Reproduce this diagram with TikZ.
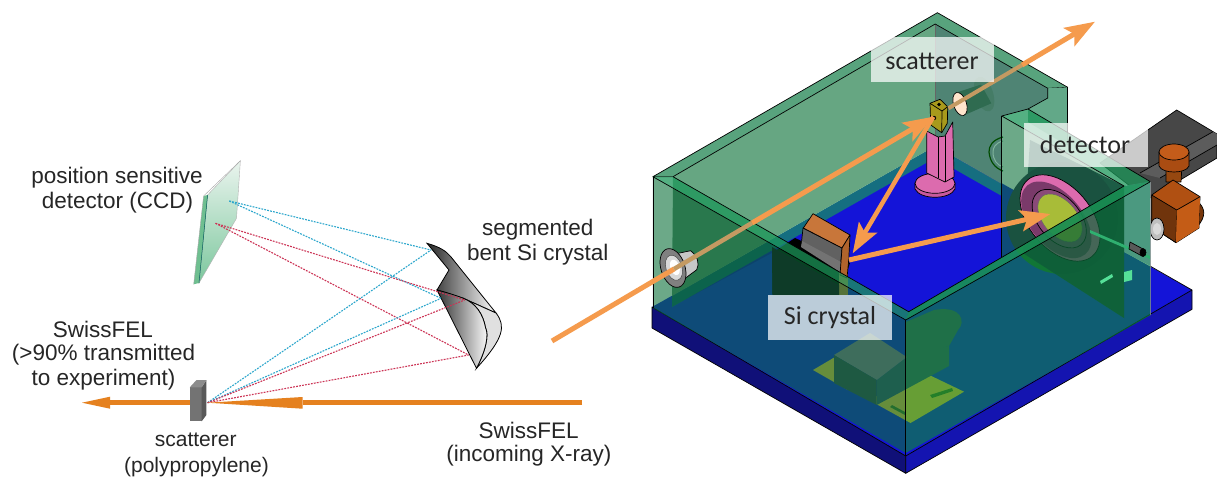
\documentclass[tikz,border=0pt]{standalone}
\usepackage{fontspec}
\setmainfont{Liberation Sans}
\newfontfamily\labelfont{Carlito}
\usetikzlibrary{arrows.meta}
\definecolor{beam}{HTML}{E5811F}
\definecolor{beamB}{HTML}{F59B4D}
\definecolor{beamT}{HTML}{C49A62}
\definecolor{rayblue}{HTML}{2BA6CC}
\definecolor{rayred}{HTML}{CC3355}
\definecolor{wallc}{HTML}{0A7139}
\definecolor{wallr}{HTML}{0C8E2F}
\definecolor{rimc}{HTML}{1C9659}
\definecolor{pinkc}{HTML}{DC6BAE}
\definecolor{pinkd}{HTML}{C85A9C}
\definecolor{c1414D8}{HTML}{1414D8}
\definecolor{plateL}{HTML}{101078}
\definecolor{plateR}{HTML}{1414B0}
\definecolor{c156E80}{HTML}{156E80}
\definecolor{c66A682}{HTML}{66A682}
\definecolor{c54897A}{HTML}{4F8474}
\definecolor{c58A37D}{HTML}{58A37D}
\definecolor{c62A888}{HTML}{62A888}
\definecolor{c7FB49B}{HTML}{7FB49B}
\definecolor{c3E7A5E}{HTML}{2F6B50}
\definecolor{c4D8670}{HTML}{457C66}
\definecolor{cC8763A}{HTML}{C8763A}
\definecolor{cB0642C}{HTML}{B0642C}
\definecolor{cFFD030}{HTML}{F0B840}
\definecolor{c3E6E5F}{HTML}{3C446E}
\definecolor{c3E6E5L}{HTML}{3E6E5F}
\definecolor{c8E6991}{HTML}{8E6991}
\definecolor{c3C3750}{HTML}{3C3750}
\definecolor{c1C5C45}{HTML}{1C5C45}
\definecolor{c1E4E38}{HTML}{1A5240}
\definecolor{c7A3A6A}{HTML}{7A3A6A}
\definecolor{c8A4A78}{HTML}{8A4A78}
\definecolor{cBED23C}{HTML}{A8BC38}
\definecolor{c55E098}{HTML}{55E098}
\definecolor{c66E8A8}{HTML}{2FB070}
\definecolor{knA}{HTML}{964810}
\definecolor{knB}{HTML}{78370C}
\definecolor{knC}{HTML}{B05012}
\definecolor{knD}{HTML}{70340C}
\definecolor{knE}{HTML}{C45C16}
\definecolor{knF}{HTML}{AA4C12}
\definecolor{knG}{HTML}{C45C1A}
\definecolor{cube}{HTML}{A89A1C}
\definecolor{darkh}{HTML}{0E3B28}
\definecolor{strip}{HTML}{AAAAFA}
\definecolor{detT}{HTML}{EAF4EE}
\definecolor{detB2}{HTML}{7CC79D}
\definecolor{detS}{HTML}{6FBF90}
\definecolor{shadeP}{HTML}{0A2A40}
\definecolor{slot}{HTML}{4A6A20}
\tikzset{
  txt/.style={font=\fontsize{22.5}{24}\selectfont,text=black!85,inner sep=0pt},
  smalltxt/.style={font=\fontsize{21}{23}\selectfont,text=black!85,inner sep=0pt},
  tag/.style={font=\labelfont\fontsize{26}{28}\selectfont,text=black!85,inner sep=0pt},
  tagbox/.style={fill=white,opacity=.72,draw=none},
  ln/.style={draw=black,line width=.7pt,line join=round},
  wall/.style={fill=wallc,fill opacity=.6,draw=none},
  wallR/.style={fill=wallr,fill opacity=.6,draw=none},
  rim/.style={fill=rimc,fill opacity=.75,draw=none},
  rayb/.style={rayblue,line width=1.1pt,dash pattern=on 1.8pt off 1.2pt},
  rayr/.style={rayred,line width=1.1pt,dash pattern=on 1.8pt off 1.2pt},
  beamL/.style={beam,line width=5.5pt},
  beamR/.style={beamB,line width=5pt},
  headR/.style={-{Stealth[length=30pt,width=21pt,inset=6pt]}},
}
\begin{document}
\begin{tikzpicture}[x=1pt,y=-1pt]
\useasboundingbox (0,0) rectangle (1217,477);
\fill[white] (0,0) rectangle (1217,477);
% ---------- named points ----------
\coordinate (scpt) at (207.6,402.7);
\coordinate (detB) at (229.3,201);
\coordinate (detR) at (215.5,223.3);
\coordinate (crB1) at (431,250);
\coordinate (crB2) at (441,298.3);
\coordinate (crR1) at (464.6,300);
\coordinate (crR2) at (468.6,355);
\coordinate (inStart) at (582,402.7);
\coordinate (inHead) at (302.5,402.7);
\coordinate (outStart) at (190,402.7);
\coordinate (outHead) at (110,402.7);
\coordinate (outEnd) at (82,402.7);
% ---------- detector (left) ----------
\shade[top color=detT,bottom color=detB2,draw=gray!60,line width=.4pt]
  (240.4,160.7) -- (207.6,195) -- (199,283) -- (236.5,218.3) -- cycle;
\fill[detS] (203.6,196) -- (207.6,195) -- (199,283) -- (193.7,284.3) -- cycle;
\draw[gray!70,line width=.4pt] (240.4,160.7) -- (203.6,196) -- (193.7,284.3);
\draw[teal!70!black,line width=.5pt] (207.6,195) -- (199,283);
% ---------- crystal (left) ----------
\shade[left color=black!85,right color=white,draw=black,line width=.8pt]
  (427,243.3) .. controls (440,247) and (446,251) .. (450.8,256.7) -- (496,313)
  -- (462.6,298) -- (437,290) -- (449,270) -- cycle;
\fill[black!12,draw=black,line width=.8pt]
  (462.6,298) -- (496,313) .. controls (506,326) and (504,338) .. (476.5,368.3)
  .. controls (486,350) and (489,335) .. (485.6,328) .. controls (483,314) and (476,303) .. (462.6,298);
\shade[left color=black!80,right color=white,draw=black,line width=.8pt]
  (437,290) .. controls (445,292) and (455,295) .. (462.6,298) .. controls (476,303) and (483,314) .. (485.6,328)
  .. controls (489,335) and (486,350) .. (476.5,368.3) -- cycle;
% ---------- rays ----------
\draw[rayb] (detB) -- (crB1);
\draw[rayb] (detB) -- (crB2);
\draw[rayr] (detR) -- (crR1);
\draw[rayr] (detR) -- (crR2);
\draw[rayb] (scpt) -- (crB1);
\draw[rayb] (scpt) -- (crB2);
\draw[rayr] (scpt) -- (crR1);
\draw[rayr] (scpt) -- (crR2);
% ---------- beam + scatterer (left) ----------
\draw[beamL] (outStart) -- (outHead);
\fill[beam] (outEnd) -- (110,396.7) -- (110,408.7) -- cycle;
\draw[beamL] (inStart) -- (inHead);
\fill[beam] (scpt) -- (302.5,397) -- (302.5,408.7) -- cycle;
\fill[black!55] (189.8,387.3) rectangle (201.7,421.3);
\fill[black!65] (201.7,387.3) -- (206.4,380) -- (206.4,415) -- (201.7,421.3) -- cycle;
\fill[black!45] (189.8,387.3) -- (196.5,380) -- (206.4,380) -- (201.7,387.3) -- cycle;
% ---------- labels (left) ----------
\node[txt] (l1) at (117,177.7) {position sensitive};
\node[txt] (l2) at (117.4,202.7) {detector (CCD)};
\node[txt] (l3) at (537.8,230) {segmented};
\node[txt] (l4) at (537.8,255) {bent Si crystal};
\node[txt] (l5) at (102.8,329) {SwissFEL};
\node[txt] (l6) at (103.6,354.3) {(>90\% transmitted};
\node[txt] (l7) at (103.6,379.3) {to experiment)};
\node[smalltxt] (l8) at (195.7,440) {scatterer};
\node[smalltxt] (l9) at (196.5,467) {(polypropylene)};
\node[txt] (l10) at (528.7,430) {SwissFEL};
\node[txt] (l11) at (529,456) {(incoming X-ray)};

% ========== right: base plate ==========
\fill[c1414D8] (652,307) -- (937,147) -- (1192,290) -- (905.7,456) -- cycle;
\filldraw[fill=plateL,ln] (652,307) -- (905.7,456) -- (905.7,473.3) -- (652,328) -- cycle;
\filldraw[fill=plateR,ln] (905.7,456) -- (1192,290) -- (1192,309.3) -- (905.7,473.3) -- cycle;
\draw[ln] (1150,266) -- (1192,290);

% motor
\filldraw[fill=black!72,ln] (1100,163) -- (1176.7,110) -- (1217,134) -- (1217,158) -- (1150,198) -- (1130,186) -- cycle;
\fill[black!64] (1213,131.7) -- (1217,134) -- (1217,145) -- (1160,178) -- (1140,173) -- cycle;
\draw[ln] (1213,131.7) -- (1140,173);
\draw[ln] (1217,145) -- (1160,178);
% knob
\filldraw[fill=knA,ln] (1166,165) -- (1182,165) -- (1181,182) -- (1166,182) -- cycle;
\filldraw[fill=knB,ln] (1196,200) .. controls (1206,208) and (1206,216) .. (1198,226) -- cycle;
\filldraw[fill=knC,ln] (1151.7,195) -- (1173,180) -- (1200,196.7) -- (1199,228) -- (1176,242.7) -- (1151.7,226.7) -- cycle;
\filldraw[fill=knD,ln] (1151.7,195) -- (1176.7,210) -- (1176,242.7) -- (1151.7,226.7) -- cycle;
\fill[knE] (1176.7,210) -- (1176,242.7) -- (1199,228) -- (1200,196.7) -- cycle;
\draw[ln] (1176.7,210) -- (1200,196.7);
\draw[ln,fill=knF] (1159,152) -- (1159,166) .. controls (1162,174) and (1186,174) .. (1189,166) -- (1189,152) -- cycle;
\draw[ln,fill=knG] (1174,152) ellipse [x radius=15pt,y radius=8pt];
\draw[ln,fill=black!25] (1157,229) ellipse [x radius=7pt,y radius=11pt];
\fill[white!85!black] (1157,229) ellipse [x radius=4pt,y radius=6pt];

% ========== back walls ==========
% floor strip
\fill[c156E80] (672,296) -- (935,146) -- (1001.7,184) -- (1001.7,196) -- (935,158) -- (672,307) -- cycle;
% left back wall, inner face
\fill[c66A682] (673,176.7) -- (935.2,24) -- (935.2,146) -- (672,296) -- cycle;
% right back wall, inner face
\fill[c54897A] (935.2,24) -- (1047.8,88.3) -- (1047.8,100) -- (1028,109) -- (1001.7,116) -- (1001.7,184) -- (935.2,146) -- cycle;
\draw[black!60,line width=.5pt] (935.2,24) -- (935.2,146);
% upper rim
\filldraw[fill=c58A37D,ln] (652.9,176.7) -- (937.4,12.7) -- (1067.7,87.3) -- (1047.8,88.3) -- (935.2,24) -- (673,176.7) -- cycle;
% right column of back wall
\fill[c62A888] (1047.8,88.3) -- (1067.7,87.3) -- (1067.7,146) -- (1028,122) -- (1028,109) -- (1047.8,98) -- cycle;
\draw[ln] (1067.7,87.3) -- (1067.7,145);
\draw[ln] (1047.8,88.3) -- (1047.8,98) -- (1028,109);
% bracket on wall
\draw[black!70!green,line width=1.2pt] (1003,137) .. controls (992,140) and (989,146) .. (989,152) .. controls (990,162) and (995,168) .. (1003,171);
\draw[c7FB49B,line width=1pt] (1003,141) .. controls (995,143) and (993,148) .. (993,152) .. controls (993,160) and (997,165) .. (1003,167);
% back port
\begin{scope}[shift={(960,104)},rotate=18]
  \fill[c4D8670] (26,-2) ellipse [x radius=9pt,y radius=18pt];
  \fill[c3E7A5E] (0,-12) -- (26,-12) -- (30,9) -- (0,12) -- cycle;
  \draw[ln,fill=white!80!orange] (0,0) ellipse [x radius=6.5pt,y radius=12pt];
\end{scope}

% ========== post + scatterer ==========
\filldraw[fill=pinkd,ln] (915,183) -- (915,189) .. controls (920,200) and (950,200) .. (955,189) -- (955,183) -- cycle;
\draw[ln,fill=pinkc] (935,183.3) ellipse [x radius=20pt,y radius=10pt];
\filldraw[fill=pinkc,ln] (926.7,131) -- (938,137) -- (945,136) -- (952.7,122) -- (954,177) -- (945,182) -- (926.7,173) -- cycle;
\draw[ln] (938,137) -- (938,178);
\draw[ln] (945,136) -- (945,182);
\filldraw[fill=cube,ln] (930,103.3) -- (930.7,125) -- (941.7,132.7) -- (947.3,123.3) -- (947.7,106.7) -- (940,99.3) -- cycle;
\draw[ln] (930,103.3) -- (942,111) -- (947.7,106.7);
\draw[ln] (942,111) -- (941.7,132.7);
\fill[black] (939,104.5) circle (1.8pt);
\fill[black] (934,118) circle (2.2pt);

% ========== Si crystal holder ==========
\fill[black] (772,253) -- (795,238) -- (850,263) -- (838.7,295) -- (772.5,295) -- cycle;
\fill[cC8763A] (839,268) rectangle (848,295);
\filldraw[fill=black!62,ln] (803,228) -- (842,248) -- (840,272) -- (801,247) -- cycle;
\fill[black!55] (802,241) -- (841,262) -- (840,272) -- (801,247) -- cycle;
\filldraw[fill=cC8763A,ln] (803.3,228) -- (813,213.7) -- (850,235) -- (842,248) -- cycle;
\filldraw[fill=cB0642C,ln] (842,248) -- (850,235) -- (848.7,260) -- (847,278) -- (840,275) -- cycle;

% ========== lower mount (seen through glass) ==========
\fill[cFFD030] (813,370) -- (835,357) -- (870,377) -- (848,390) -- cycle;
\fill[cFFD030] (923,372) -- (964,391.7) -- (910.5,423) -- (869,400) -- cycle;
\fill[slot] (930,395) -- (952,388) -- (953,391) -- (932,398) -- cycle;
\fill[slot] (892,405) -- (905,412) -- (905,415) -- (890,407) -- cycle;
\fill[c3E6E5F] (876.7,380) -- (906.7,357) -- (949,346) -- (949,366) -- (876.7,405) -- cycle;
\fill[c3E6E5F] (906,322) -- (934,310) .. controls (962,305) and (966,322) .. (958,330) -- (949,346) -- (906,360) -- cycle;
\fill[c8E6991] (834,355) -- (870,333) -- (906.7,357) -- (876.7,380) -- cycle;
\fill[c3C3750] (834,355) -- (834,383) -- (876.7,405) -- (876.7,380) -- cycle;

% ========== floor visible through, detector side ==========
\fill[wallc,fill opacity=.6] (1001.7,116) -- (1124,186) -- (1001.7,257) -- cycle;
% strip at the right end of the front wall
\fill[strip] (1124,186) -- (1150.4,181.7) -- (1150.6,266) -- (1124,252) -- cycle;
% panel
\fill[c1C5C45] (1030,140) -- (1124,186) -- (1124,318) -- (1022.8,253) -- cycle;
\fill[c1E4E38] (1062,218) ellipse [x radius=56pt,y radius=56pt];
\begin{scope}[shift={(1060,218)},rotate=-50]
  \draw[ln,fill=pinkc] (0,0) ellipse [x radius=50pt,y radius=31pt];
  \fill[c7A3A6A] (-1,4) ellipse [x radius=45pt,y radius=26pt];
  \draw[ln,fill=c8A4A78] (0,1) ellipse [x radius=34pt,y radius=21pt];
  \draw[black!60,line width=.5pt,fill=cBED23C] (0,0) ellipse [x radius=28pt,y radius=17pt];
\end{scope}

% ========== translucent front walls ==========
\fill[wall] (652.9,176.7) -- (905.7,320) -- (905.7,453) -- (652.9,308) -- cycle;
\fill[wallR] (905.7,320) -- (908.7,311.7) -- (1124,186) -- (1150.4,181.7) -- (1150.7,315) -- (905.7,453) -- cycle;
\fill[shadeP,fill opacity=.3] (1124,186) -- (1124,318) -- (1022.8,253) -- (1022.8,245) -- cycle;
\fill[black,fill opacity=.1] (673,188) -- (780,248.6) -- (672,306.7) -- cycle;
\fill[darkh] (772,247) -- (772.5,295) -- (839,295) -- (839,285) -- cycle;
% dashes on the panel
\fill[c55E098] (1100,281) -- (1112,274) -- (1113,277) -- (1101,284) -- cycle;
\fill[c55E098] (1124,272) -- (1132,270) -- (1132,280) -- (1124,282) -- cycle;
\fill[c66E8A8] (1090,230) -- (1150,256) -- (1150,259) -- (1090,233) -- cycle;
\draw[ln,fill=black!65] (1130,242) -- (1143,249) -- (1142,256) -- (1129,249) -- cycle;
\draw[ln,fill=black] (1143,252.5) ellipse [x radius=3pt,y radius=4pt];
% top rims of front walls
\fill[rim] (652.9,176.7) -- (905.7,320) -- (908.7,311.7) -- (673,176.7) -- cycle;
\fill[rim] (905.7,320) -- (908.7,311.7) -- (1124,186) -- (1150.4,181.7) -- cycle;
\fill[rim] (1001.7,116) -- (1028,109) -- (1150.4,181.7) -- (1124,186) -- cycle;
% outlines
\draw[ln] (652.9,176.7) -- (652.9,308);
\draw[ln] (652.9,176.7) -- (905.7,320) -- (1150.4,181.7) -- (1028,109) -- (1001.7,116) -- (1124,186) -- (908.7,311.7) -- (673,176.7);
\draw[ln] (905.7,320) -- (905.7,456);
\draw[black!40,line width=.5pt] (1150.4,181.7) -- (1150.7,315);
\draw[ln] (1001.7,116) -- (1001.7,257);

% ========== left port ==========
\begin{scope}[shift={(673,268)},rotate=18]
  \filldraw[fill=black!22,ln] (4,-13) -- (22,-11) .. controls (27,-4) and (27,4) .. (22,9) -- (4,15) -- cycle;
  \draw[ln,fill=black!50] (0,0) ellipse [x radius=12pt,y radius=20pt];
  \draw[black!70,line width=.5pt,fill=white!85!black] (1,0) ellipse [x radius=8pt,y radius=13pt];
  \fill[white] (2,0) ellipse [x radius=4.5pt,y radius=8pt];
\end{scope}

% ========== orange beams (right) ==========
\coordinate (bStart) at (552,341);
\coordinate (bPort) at (674,269);
\coordinate (bWall) at (752,223);
\coordinate (bTip) at (933.3,116.7);
\coordinate (scRight) at (948.4,108.3);
\coordinate (exitWall) at (1022,65);
\coordinate (exitTip) at (1095,21.7);
\coordinate (xtal) at (852.7,253.3);
\coordinate (xtalTail) at (849,260);
\coordinate (detTip) at (1050.4,214);
\draw[beamB,line width=5pt] (bStart) -- (bPort);
\draw[beamT,line width=4.5pt] (bPort) -- (bWall);
\draw[beamR,headR] (bWall) -- (bTip);
\draw[beamT,line width=4pt] (scRight) -- (exitWall);
\draw[beamR,headR] (exitWall) -- (exitTip);
\draw[beamR,line width=4.5pt,headR] (bTip) -- (xtal);
\draw[beamR,headR] (xtalTail) -- (detTip);

% ========== tag labels ==========
\fill[tagbox] (871,37.3) rectangle (994,81.7);
\fill[tagbox] (1024,122.7) rectangle (1147.7,166.7);
\fill[tagbox] (768,295) rectangle (892,340);
\node[tag] (t1) at (932,61) {scatterer};
\node[tag] (t2) at (1085,145) {detector};
\node[tag] (t3) at (830,318) {Si crystal};
\end{tikzpicture}
\end{document}
